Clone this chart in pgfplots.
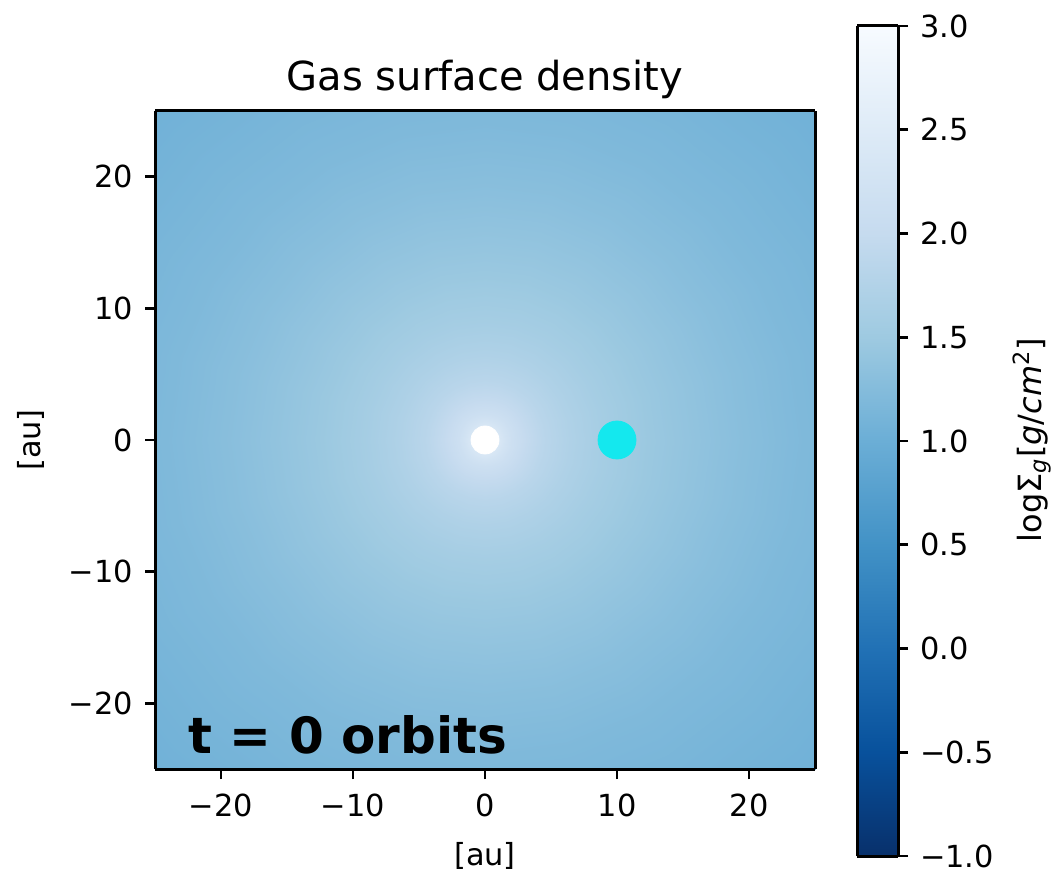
\documentclass[border=0pt]{standalone}
\usepackage{fontspec}
\setmainfont{DejaVu Sans}
\usepackage{pgfplots}
\pgfplotsset{compat=1.18}
\definecolor{planet}{RGB}{20,232,238}
\pgfplotsset{
  colormap={bluesr}{rgb255=(8,48,107) rgb255=(8,81,156) rgb255=(33,113,181)
    rgb255=(66,146,198) rgb255=(107,174,214) rgb255=(158,202,225)
    rgb255=(198,219,239) rgb255=(222,235,247) rgb255=(247,251,255)},
  every axis/.append style={
    scale only axis, axis on top, view={0}{90},
    tick align=outside, major tick length=5pt,
    tick style={black, line width=1.4pt},
    axis line style={line width=1.5pt},
    tick label style={font=\fontsize{15.2}{18}\selectfont},
    colormap name=bluesr, point meta min=-1, point meta max=3,
  },
}
\begin{document}
\begin{tikzpicture}
% main map, 1 px = 0.5pt
\begin{axis}[
    at={(77.5pt,52.5pt)}, anchor=south west,
    width=330pt, height=329pt,
    xmin=-25, xmax=25, ymin=-25, ymax=25,
    xtick={-20,-10,0,10,20}, xticklabels={−20,−10,0,10,20},
    ytick={-20,-10,0,10,20}, yticklabels={−20,−10,0,10,20},
    tick pos=left, xticklabel shift=4pt, yticklabel shift=2.5pt,
  ]
  % radial profile, (angle, radius, log Sigma)
  \addplot3[surf, shader=interp, data cs=polar] coordinates {
(0,0,2.55) (0,1,2.40) (0,1.5,2.25) (0,2,2.14) (0,3,1.99) (0,4.5,1.84) (0,6.5,1.71) (0,9,1.59) (0,12,1.48) (0,15,1.40) (0,19,1.30) (0,24,1.20) (0,30,1.12) (0,36,1.05)

(15,0,2.55) (15,1,2.40) (15,1.5,2.25) (15,2,2.14) (15,3,1.99) (15,4.5,1.84) (15,6.5,1.71) (15,9,1.59) (15,12,1.48) (15,15,1.40) (15,19,1.30) (15,24,1.20) (15,30,1.12) (15,36,1.05)

(30,0,2.55) (30,1,2.40) (30,1.5,2.25) (30,2,2.14) (30,3,1.99) (30,4.5,1.84) (30,6.5,1.71) (30,9,1.59) (30,12,1.48) (30,15,1.40) (30,19,1.30) (30,24,1.20) (30,30,1.12) (30,36,1.05)

(45,0,2.55) (45,1,2.40) (45,1.5,2.25) (45,2,2.14) (45,3,1.99) (45,4.5,1.84) (45,6.5,1.71) (45,9,1.59) (45,12,1.48) (45,15,1.40) (45,19,1.30) (45,24,1.20) (45,30,1.12) (45,36,1.05)

(60,0,2.55) (60,1,2.40) (60,1.5,2.25) (60,2,2.14) (60,3,1.99) (60,4.5,1.84) (60,6.5,1.71) (60,9,1.59) (60,12,1.48) (60,15,1.40) (60,19,1.30) (60,24,1.20) (60,30,1.12) (60,36,1.05)

(75,0,2.55) (75,1,2.40) (75,1.5,2.25) (75,2,2.14) (75,3,1.99) (75,4.5,1.84) (75,6.5,1.71) (75,9,1.59) (75,12,1.48) (75,15,1.40) (75,19,1.30) (75,24,1.20) (75,30,1.12) (75,36,1.05)

(90,0,2.55) (90,1,2.40) (90,1.5,2.25) (90,2,2.14) (90,3,1.99) (90,4.5,1.84) (90,6.5,1.71) (90,9,1.59) (90,12,1.48) (90,15,1.40) (90,19,1.30) (90,24,1.20) (90,30,1.12) (90,36,1.05)

(105,0,2.55) (105,1,2.40) (105,1.5,2.25) (105,2,2.14) (105,3,1.99) (105,4.5,1.84) (105,6.5,1.71) (105,9,1.59) (105,12,1.48) (105,15,1.40) (105,19,1.30) (105,24,1.20) (105,30,1.12) (105,36,1.05)

(120,0,2.55) (120,1,2.40) (120,1.5,2.25) (120,2,2.14) (120,3,1.99) (120,4.5,1.84) (120,6.5,1.71) (120,9,1.59) (120,12,1.48) (120,15,1.40) (120,19,1.30) (120,24,1.20) (120,30,1.12) (120,36,1.05)

(135,0,2.55) (135,1,2.40) (135,1.5,2.25) (135,2,2.14) (135,3,1.99) (135,4.5,1.84) (135,6.5,1.71) (135,9,1.59) (135,12,1.48) (135,15,1.40) (135,19,1.30) (135,24,1.20) (135,30,1.12) (135,36,1.05)

(150,0,2.55) (150,1,2.40) (150,1.5,2.25) (150,2,2.14) (150,3,1.99) (150,4.5,1.84) (150,6.5,1.71) (150,9,1.59) (150,12,1.48) (150,15,1.40) (150,19,1.30) (150,24,1.20) (150,30,1.12) (150,36,1.05)

(165,0,2.55) (165,1,2.40) (165,1.5,2.25) (165,2,2.14) (165,3,1.99) (165,4.5,1.84) (165,6.5,1.71) (165,9,1.59) (165,12,1.48) (165,15,1.40) (165,19,1.30) (165,24,1.20) (165,30,1.12) (165,36,1.05)

(180,0,2.55) (180,1,2.40) (180,1.5,2.25) (180,2,2.14) (180,3,1.99) (180,4.5,1.84) (180,6.5,1.71) (180,9,1.59) (180,12,1.48) (180,15,1.40) (180,19,1.30) (180,24,1.20) (180,30,1.12) (180,36,1.05)

(195,0,2.55) (195,1,2.40) (195,1.5,2.25) (195,2,2.14) (195,3,1.99) (195,4.5,1.84) (195,6.5,1.71) (195,9,1.59) (195,12,1.48) (195,15,1.40) (195,19,1.30) (195,24,1.20) (195,30,1.12) (195,36,1.05)

(210,0,2.55) (210,1,2.40) (210,1.5,2.25) (210,2,2.14) (210,3,1.99) (210,4.5,1.84) (210,6.5,1.71) (210,9,1.59) (210,12,1.48) (210,15,1.40) (210,19,1.30) (210,24,1.20) (210,30,1.12) (210,36,1.05)

(225,0,2.55) (225,1,2.40) (225,1.5,2.25) (225,2,2.14) (225,3,1.99) (225,4.5,1.84) (225,6.5,1.71) (225,9,1.59) (225,12,1.48) (225,15,1.40) (225,19,1.30) (225,24,1.20) (225,30,1.12) (225,36,1.05)

(240,0,2.55) (240,1,2.40) (240,1.5,2.25) (240,2,2.14) (240,3,1.99) (240,4.5,1.84) (240,6.5,1.71) (240,9,1.59) (240,12,1.48) (240,15,1.40) (240,19,1.30) (240,24,1.20) (240,30,1.12) (240,36,1.05)

(255,0,2.55) (255,1,2.40) (255,1.5,2.25) (255,2,2.14) (255,3,1.99) (255,4.5,1.84) (255,6.5,1.71) (255,9,1.59) (255,12,1.48) (255,15,1.40) (255,19,1.30) (255,24,1.20) (255,30,1.12) (255,36,1.05)

(270,0,2.55) (270,1,2.40) (270,1.5,2.25) (270,2,2.14) (270,3,1.99) (270,4.5,1.84) (270,6.5,1.71) (270,9,1.59) (270,12,1.48) (270,15,1.40) (270,19,1.30) (270,24,1.20) (270,30,1.12) (270,36,1.05)

(285,0,2.55) (285,1,2.40) (285,1.5,2.25) (285,2,2.14) (285,3,1.99) (285,4.5,1.84) (285,6.5,1.71) (285,9,1.59) (285,12,1.48) (285,15,1.40) (285,19,1.30) (285,24,1.20) (285,30,1.12) (285,36,1.05)

(300,0,2.55) (300,1,2.40) (300,1.5,2.25) (300,2,2.14) (300,3,1.99) (300,4.5,1.84) (300,6.5,1.71) (300,9,1.59) (300,12,1.48) (300,15,1.40) (300,19,1.30) (300,24,1.20) (300,30,1.12) (300,36,1.05)

(315,0,2.55) (315,1,2.40) (315,1.5,2.25) (315,2,2.14) (315,3,1.99) (315,4.5,1.84) (315,6.5,1.71) (315,9,1.59) (315,12,1.48) (315,15,1.40) (315,19,1.30) (315,24,1.20) (315,30,1.12) (315,36,1.05)

(330,0,2.55) (330,1,2.40) (330,1.5,2.25) (330,2,2.14) (330,3,1.99) (330,4.5,1.84) (330,6.5,1.71) (330,9,1.59) (330,12,1.48) (330,15,1.40) (330,19,1.30) (330,24,1.20) (330,30,1.12) (330,36,1.05)

(345,0,2.55) (345,1,2.40) (345,1.5,2.25) (345,2,2.14) (345,3,1.99) (345,4.5,1.84) (345,6.5,1.71) (345,9,1.59) (345,12,1.48) (345,15,1.40) (345,19,1.30) (345,24,1.20) (345,30,1.12) (345,36,1.05)

(360,0,2.55) (360,1,2.40) (360,1.5,2.25) (360,2,2.14) (360,3,1.99) (360,4.5,1.84) (360,6.5,1.71) (360,9,1.59) (360,12,1.48) (360,15,1.40) (360,19,1.30) (360,24,1.20) (360,30,1.12) (360,36,1.05)
  };
  % star and planet
  \addplot3[only marks, mark=*, mark size=7pt, color=white, mark options={draw=white, fill=white}] coordinates {(0,0,3)};
  \addplot3[only marks, mark=*, mark size=9.5pt, color=planet, mark options={draw=planet, fill=planet}] coordinates {(10,0,3)};
\end{axis}
% colorbar
\begin{axis}[
    at={(428.5pt,9pt)}, anchor=south west,
    width=20.5pt, height=415pt,
    xmin=0, xmax=1, ymin=-1, ymax=3,
    xtick=\empty,
    ytick={-1,-0.5,0,0.5,1,1.5,2,2.5,3},
    yticklabels={−1.0,−0.5,0.0,0.5,1.0,1.5,2.0,2.5,3.0},
    ytick pos=right, yticklabel pos=right, yticklabel shift=2.5pt,
  ]
  \addplot3[surf, shader=interp] coordinates {
(0,-1,-1) (1,-1,-1)

(0,-0.5,-0.5) (1,-0.5,-0.5)

(0,0,0) (1,0,0)

(0,0.5,0.5) (1,0.5,0.5)

(0,1,1) (1,1,1)

(0,1.5,1.5) (1,1.5,1.5)

(0,2,2) (1,2,2)

(0,2.5,2.5) (1,2.5,2.5)

(0,3,3) (1,3,3)
  };
\end{axis}
% titles and labels
\node[anchor=base, font=\fontsize{20}{24}\selectfont] at (242.5pt,391.5pt) {Gas surface density};
\node[anchor=base west, inner sep=0pt, font=\fontsize{25}{30}\selectfont\bfseries] at (94pt,60.5pt) {t = 0 orbits};
\node[anchor=base, font=\fontsize{15.2}{18}\selectfont] at (242.5pt,4.5pt) {[au]};
\node[rotate=90, font=\fontsize{15.2}{18}\selectfont] at (15.5pt,217pt) {[au]};
\node[rotate=90, font=\fontsize{16}{19}\selectfont] at (516pt,217pt) {logΣ\textsubscript{\textit{g}}[\textit{g}/\textit{cm}\textsuperscript{2}]};
\pgfresetboundingbox
\useasboundingbox (0,0) rectangle (529.5pt,437pt);
\end{tikzpicture}
\end{document}
